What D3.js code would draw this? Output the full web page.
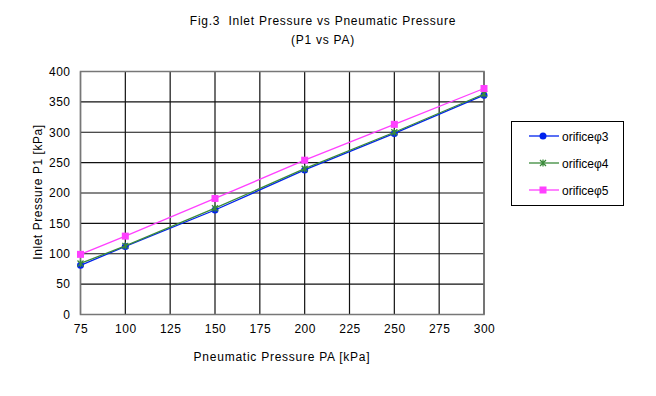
<!DOCTYPE html>
<html><head><meta charset="utf-8">
<script src="https://cdn.jsdelivr.net/npm/d3@7"></script>
<style>body{margin:0;background:#fff}svg{display:block;font-family:"Liberation Sans",Arial,sans-serif}text{white-space:pre}</style>
</head><body>
<svg id="c" width="656" height="396"></svg>
<script>
const xValues = [75, 100, 150, 200, 250, 300];
const seriesNames = ["orificeφ3", "orificeφ4", "orificeφ5"];
const phi3 = [81, 112, 172, 238, 298, 361];
const phi4 = [84, 113, 175, 240, 300, 363];
const phi5 = [99, 129, 191, 254, 313, 372];
const xTicks = [75, 100, 125, 150, 175, 200, 225, 250, 275, 300];
const yTicks = [0, 50, 100, 150, 200, 250, 300, 350, 400];

const colors = ["#0022ee", "#3a8a3a", "#ff40ff"];
const markers = ["circle", "star", "square"];
const data = [phi3, phi4, phi5];

const svg = d3.select("#c");
const x = d3.scaleLinear().domain([75, 300]).range([80.5, 484]);
const y = d3.scaleLinear().domain([0, 400]).range([314.5, 71.5]);

// grid
const g = svg.append("g");
g.selectAll(".vg").data(xTicks).join("line")
  .attr("x1", d => x(d)).attr("x2", d => x(d)).attr("y1", y(0)).attr("y2", y(400))
  .attr("stroke", "#111").attr("stroke-width", 1.2);
g.selectAll(".hg").data(yTicks).join("line")
  .attr("y1", d => y(d)).attr("y2", d => y(d)).attr("x1", x(75)).attr("x2", x(300))
  .attr("stroke", "#111").attr("stroke-width", 1.2);
g.append("rect").attr("x", x(75)).attr("y", y(400)).attr("width", x(300) - x(75)).attr("height", y(0) - y(400))
  .attr("fill", "none").attr("stroke", "#777").attr("stroke-width", 1.5);

// axes tick labels via d3 axes
const xAxis = svg.append("g").attr("transform", `translate(0,${y(0)})`)
  .call(d3.axisBottom(x).tickValues(xTicks).tickSize(0).tickPadding(10));
xAxis.select(".domain").remove();
xAxis.selectAll("text").attr("font-size", 12).attr("fill", "#000").attr("letter-spacing", 0.5)
  .attr("font-family", "Liberation Sans, Arial, sans-serif");
const yAxis = svg.append("g").attr("transform", `translate(${x(75)},0)`)
  .call(d3.axisLeft(y).tickValues(yTicks).tickSize(0).tickPadding(10));
yAxis.select(".domain").remove();
yAxis.selectAll("text").attr("font-size", 12).attr("fill", "#000").attr("letter-spacing", 0.5)
  .attr("font-family", "Liberation Sans, Arial, sans-serif");

// titles
svg.append("text").attr("x", 323).attr("y", 25).attr("text-anchor", "middle").attr("font-size", 12)
  .attr("letter-spacing", 0.75).text("Fig.3  Inlet Pressure vs Pneumatic Pressure");
svg.append("text").attr("x", 323).attr("y", 44).attr("text-anchor", "middle").attr("font-size", 12)
  .attr("letter-spacing", 0.75).text("(P1 vs PA)");
svg.append("text").attr("x", 282).attr("y", 361).attr("text-anchor", "middle").attr("font-size", 12)
  .attr("letter-spacing", 0.75).text("Pneumatic Pressure PA [kPa]");
svg.append("text").attr("transform", "translate(42,192) rotate(-90)").attr("text-anchor", "middle").attr("font-size", 12)
  .attr("letter-spacing", 0.55).text("Inlet Pressure P1 [kPa]");

function drawMarker(sel, type, color) {
  if (type === "circle") {
    sel.append("circle").attr("r", 3.5).attr("fill", color);
  } else if (type === "square") {
    sel.append("rect").attr("x", -3.5).attr("y", -3.5).attr("width", 7).attr("height", 7).attr("fill", color);
  } else {
    const p = "M-3,-3L3,3M-3,3L3,-3M0,-3.5L0,3.5";
    sel.append("path").attr("d", p).attr("stroke", color).attr("stroke-width", 1.3).attr("fill", "none");
  }
}

const line = d3.line().x((d, i) => x(xValues[i])).y(d => y(d));
data.forEach((vals, si) => {
  svg.append("path").datum(vals).attr("d", line).attr("fill", "none")
    .attr("stroke", colors[si]).attr("stroke-width", 1.3);
  vals.forEach((v, i) => {
    const m = svg.append("g").attr("transform", `translate(${x(xValues[i])},${y(v)})`);
    drawMarker(m, markers[si], colors[si]);
  });
});

// legend
const lg = svg.append("g");
lg.append("rect").attr("x", 511.5).attr("y", 121.5).attr("width", 112).attr("height", 84)
  .attr("fill", "#fff").attr("stroke", "#000").attr("stroke-width", 1);
seriesNames.forEach((n, i) => {
  const yy = 136 + i * 27;
  lg.append("line").attr("x1", 529).attr("x2", 559).attr("y1", yy).attr("y2", yy)
    .attr("stroke", colors[i]).attr("stroke-width", 1.3);
  const m = lg.append("g").attr("transform", `translate(543,${yy})`);
  drawMarker(m, markers[i], colors[i]);
  lg.append("text").attr("x", 562).attr("y", yy + 4.5).attr("font-size", 12).text(n);
});
</script>
</body></html>
